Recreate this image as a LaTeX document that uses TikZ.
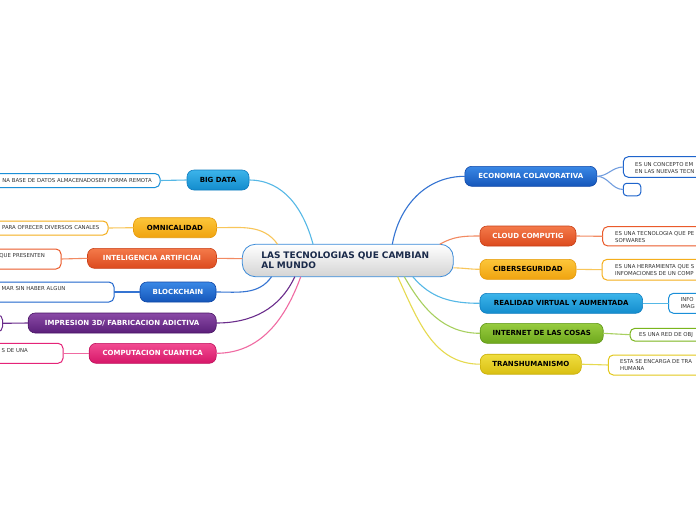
\documentclass[tikz,border=0pt]{standalone}
\usepackage{fontspec}
\setmainfont{DejaVu Sans}
\newcommand\lblfont{\fontsize{7}{8}\selectfont\bfseries}
\newcommand\ctrfont{\fontsize{9}{9.6}\selectfont\bfseries}
\newcommand\dtfont{\fontsize{5.4}{6.8}\selectfont}
% light blue
\definecolor{lbT}{HTML}{3CB4EA}\definecolor{lbB}{HTML}{138CCD}\definecolor{lbD}{HTML}{0F7DC0}\definecolor{lbL}{HTML}{55B8E6}\definecolor{lbX}{HTML}{1A8FD8}
% orange yellow
\definecolor{oyT}{HTML}{FCC63A}\definecolor{oyB}{HTML}{F0A30F}\definecolor{oyD}{HTML}{E59A0A}\definecolor{oyL}{HTML}{F8C65A}\definecolor{oyX}{HTML}{F4AE1C}
% orange red
\definecolor{orT}{HTML}{F47A4A}\definecolor{orB}{HTML}{DC4A1E}\definecolor{orD}{HTML}{C94018}\definecolor{orL}{HTML}{F28A62}\definecolor{orX}{HTML}{EA5A2A}
% blue
\definecolor{blT}{HTML}{3A88E6}\definecolor{blB}{HTML}{1556BA}\definecolor{blD}{HTML}{1048A8}\definecolor{blL}{HTML}{3574D2}\definecolor{blX}{HTML}{1E64CC}
% purple
\definecolor{puT}{HTML}{8A4AA6}\definecolor{puB}{HTML}{5B1F7A}\definecolor{puD}{HTML}{4A1566}\definecolor{puL}{HTML}{6B2D8C}\definecolor{puX}{HTML}{6A2A8A}
% pink
\definecolor{pkT}{HTML}{F24C92}\definecolor{pkB}{HTML}{D61668}\definecolor{pkD}{HTML}{C0105C}\definecolor{pkL}{HTML}{F06AA2}\definecolor{pkX}{HTML}{E52478}
% green
\definecolor{grT}{HTML}{98CC40}\definecolor{grB}{HTML}{6EA81C}\definecolor{grD}{HTML}{5E9615}\definecolor{grL}{HTML}{A8D060}\definecolor{grX}{HTML}{7AB51D}
% yellow
\definecolor{yeT}{HTML}{F0DE40}\definecolor{yeB}{HTML}{D9BF12}\definecolor{yeD}{HTML}{C8AE08}\definecolor{yeL}{HTML}{E6DA50}\definecolor{yeX}{HTML}{E2C81C}
\definecolor{txtgrey}{HTML}{333333}
\definecolor{navy}{HTML}{1A2A4A}
\definecolor{ctrD}{HTML}{3A8AD8}
\begin{document}
\begin{tikzpicture}[x=1pt,y=1pt,
  topic/.style n args={3}{rounded corners=7pt, draw=#3, line width=0.6pt,
    top color=#1, bottom color=#2, font=\lblfont, inner sep=0pt, outer sep=0pt,
    minimum height=20pt},
  dbox/.style={draw=#1, fill=white, rounded corners=5pt, line width=1pt,
    inner sep=0pt, outer sep=0pt},
  dtext/.style={font=\dtfont, text=txtgrey, inner sep=0pt, align=left},
  conn/.style={draw=#1, line width=1.1pt}
]
\useasboundingbox (0,0) rectangle (696,-520);
\fill[white] (0,0) rectangle (696,-520);

% central node
\node[rounded corners=13pt, draw=ctrD, line width=0.8pt, top color=white,
  bottom color=black!17, minimum width=211pt, minimum height=32.4pt,
  text width=173pt, inner xsep=19pt, inner ysep=0pt, outer sep=0pt, align=left,
  font=\ctrfont, text=navy] (c) at (347.8,-260.5)
  {LAS TECNOLOGIAS QUE CAMBIAN\\AL MUNDO};

% left topics
\node[topic={lbT}{lbB}{lbD}, minimum width=62pt, text=black] (bd) at (218,-180) {BIG DATA};
\node[topic={oyT}{oyB}{oyD}, minimum width=83pt, text=black] (om) at (175,-227.7) {OMNICALIDAD};
\node[topic={orT}{orB}{orD}, minimum width=129pt, text=white] (ia) at (152,-258.3) {INTELIGENCIA ARTIFICIAI};
\node[topic={blT}{blB}{blD}, minimum width=76pt, text=white] (bc) at (178,-292) {BLOCKCHAIN};
\node[topic={puT}{puB}{puD}, minimum width=188pt, text=white] (im) at (122.2,-323) {IMPRESION 3D/ FABRICACION ADICTIVA};
\node[topic={pkT}{pkB}{pkD}, minimum width=127pt, text=white] (cq) at (152.7,-353.3) {COMPUTACION CUANTICA};

% right topics
\node[topic={blT}{blB}{blD}, minimum width=132pt, text=white] (ec) at (530.8,-176.3) {ECONOMIA COLAVORATIVA};
\node[topic={orT}{orB}{orD}, minimum width=96pt, text=white] (cl) at (528,-236) {CLOUD COMPUTIG};
\node[topic={oyT}{oyB}{oyD}, minimum width=96pt, text=black] (cb) at (528,-269.3) {CIBERSEGURIDAD};
\node[topic={lbT}{lbB}{lbD}, minimum width=162.7pt, text=black] (rv) at (561.3,-303.3) {REALIDAD VIRTUAL Y AUMENTADA};
\node[topic={grT}{grB}{grD}, minimum width=123pt, text=black] (io) at (541.7,-333.3) {INTERNET DE LAS COSAS};
\node[topic={yeT}{yeB}{yeD}, minimum width=101pt, text=black] (th) at (530.8,-364.2) {TRANSHUMANISMO};

% left detail boxes
\node[dbox=lbX, minimum width=200pt, minimum height=14pt, anchor=east] (bdx) at (160,-180.5) {};
\node[dtext, anchor=east] (bdt) at (152,-180.5) {NA BASE DE DATOS ALMACENADOSEN FORMA REMOTA};
\node[dbox=oyX, minimum width=200pt, minimum height=14pt, anchor=east] (omx) at (108,-228) {};
\node[dtext, anchor=east] (omt) at (99.5,-228) {PARA OFRECER DIVERSOS CANALES};
\node[dbox=orX, minimum width=200pt, minimum height=20pt, anchor=east] (iax) at (61,-259) {};
\node[dtext, anchor=east] (iat) at (45,-255.6) {QUE PRESENTEN};
\node[dbox=blX, minimum width=200pt, minimum height=20pt, anchor=east] (bcx) at (114,-292) {};
\node[dtext, anchor=east] (bct) at (65.7,-288.7) {MAR SIN HABER ALGUN};
\node[dbox=puX, minimum width=200pt, minimum height=17pt, anchor=east] (imx) at (2.5,-323.3) {};
\node[dbox=pkX, minimum width=200pt, minimum height=20pt, anchor=east] (cqx) at (63,-353.3) {};
\node[dtext, anchor=east] (cqt) at (28,-350.3) {S DE UNA};

% right detail boxes
\node[dbox=blX, minimum width=200pt, minimum height=20.6pt, anchor=west] (ecx) at (623.3,-167) {};
\node[dtext, anchor=west] (ect) at (635,-168.3) {ES UN CONCEPTO EM\\EN LAS NUEVAS TECN};
\node[dbox=blX, minimum width=17.5pt, minimum height=12.5pt, rounded corners=3.5pt] (ecy) at (632,-189.5) {};
\node[dbox=orX, minimum width=200pt, minimum height=19.3pt, anchor=west] (clx) at (602.7,-236.3) {};
\node[dtext, anchor=west] (clt) at (615,-236.8) {ES UNA TECNOLOGIA QUE PE\\SOFWARES};
\node[dbox=oyX, minimum width=200pt, minimum height=20.7pt, anchor=west] (cbx) at (602,-269.7) {};
\node[dtext, anchor=west] (cbt) at (615,-270) {ES UNA HERRAMIENTA QUE S\\INFOMACIONES DE UN COMP};
\node[dbox=lbX, minimum width=200pt, minimum height=20pt, anchor=west] (rvx) at (668.5,-303.3) {};
\node[dtext, anchor=west] (rvt) at (680.5,-303.3) {INFO\\IMAG};
\node[dbox=grX, minimum width=200pt, minimum height=12.8pt, anchor=west] (iox) at (630,-334.7) {};
\node[dtext, anchor=west] (iot) at (639,-335) {ES UNA RED DE OBJ};
\node[dbox=yeX, minimum width=200pt, minimum height=20pt, anchor=west] (thx) at (608.3,-365) {};
\node[dtext, anchor=west] (tht) at (620,-365.3) {ESTA SE ENCARGA DE TRA\\HUMANA};

% connectors from central node
\draw[conn=lbL] (c.155) to[out=105,in=0] (bd.east);
\draw[conn=oyL] (c.167) to[out=125,in=0] (om.east);
\draw[conn=orL] (c.179) -- (ia.east);
\draw[conn=blL] (c.192) to[out=235,in=0] (bc.east);
\draw[conn=puL] (c.197) to[out=245,in=0] (im.east);
\draw[conn=pkL] (c.199.5) to[out=250,in=0] (cq.east);
\draw[conn=blL] (c.20.6) to[out=80,in=180] (ec.west);
\draw[conn=orL] (c.10.9) to[out=30,in=180] (cl.west);
\draw[conn=oyL] (c.-4) to[out=0,in=180] (cb.west);
\draw[conn=lbL] (c.-14.2) to[out=-50,in=180] (rv.west);
\draw[conn=grL] (c.-16.6) to[out=-60,in=180] (io.west);
\draw[conn=yeL] (c.-18.9) to[out=-65,in=180] (th.west);

% connectors to detail boxes
\draw[conn=lbL] (bd.west) -- (bdx.east);
\draw[conn=oyL] (om.west) -- (omx.east);
\draw[conn=orL] (ia.west) -- (iax.east);
\draw[conn=blL] (bc.west) -- (bcx.east);
\draw[conn=puL] (im.west) -- (imx.east);
\draw[conn=pkL] (cq.west) -- (cqx.east);
\draw[conn=blL!70] (ec.east) to[out=0,in=180] (ecx.west);
\draw[conn=blL!70] (ec.east) to[out=0,in=180] (ecy.west);
\draw[conn=orL] (cl.east) -- (clx.west);
\draw[conn=oyL] (cb.east) -- (cbx.west);
\draw[conn=lbL] (rv.east) -- (rvx.west);
\draw[conn=grL] (io.east) -- (iox.west);
\draw[conn=yeL] (th.east) -- (thx.west);
\end{tikzpicture}
\end{document}
